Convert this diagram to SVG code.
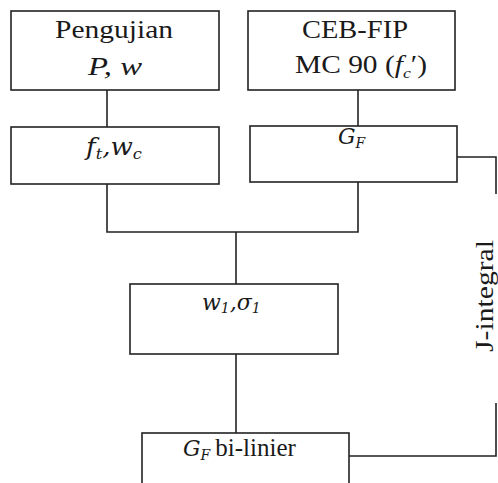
<svg xmlns="http://www.w3.org/2000/svg" width="498" height="483" viewBox="0 0 498 483">
<style>
.box{fill:#fff;stroke:#222;stroke-width:1.6}
.ln{fill:none;stroke:#222;stroke-width:1.6}
.t{font-family:"Liberation Serif","Times New Roman",serif;font-size:25px;fill:#1a1a1a}
.i{font-style:italic}
.m{font-family:"DejaVu Serif","Liberation Serif",serif;font-style:italic;fill:#1a1a1a}
</style>
<rect width="498" height="483" fill="#fff"/>
<g id="connectors">
<path class="ln" d="M107 90V127"/>
<path class="ln" d="M358 90V126"/>
<path class="ln" d="M107 184V232H358V182"/>
<path class="ln" d="M236 232V284"/>
<path class="ln" d="M236 354V433"/>
<path class="ln" d="M457 157H496V194"/>
<path class="ln" d="M349 456H496V403"/>
<text class="t" transform="translate(493 352) rotate(-90)" font-size="24" textLength="112" lengthAdjust="spacingAndGlyphs">J-integral</text>
</g>
<g id="pengujian">
<rect class="box" x="11" y="11" width="208" height="79"/>
<text class="t" x="55" y="38" textLength="118" lengthAdjust="spacingAndGlyphs">Pengujian</text>
<text class="t i" x="88" y="75" textLength="54" lengthAdjust="spacingAndGlyphs">P,  w</text>
</g>
<g id="cebfip">
<rect class="box" x="248" y="11" width="207" height="79"/>
<text class="t" x="302" y="38" textLength="106" lengthAdjust="spacingAndGlyphs">CEB-FIP</text>
<text class="t" x="295" y="73" textLength="132" lengthAdjust="spacingAndGlyphs">MC 90 (<tspan class="i">f</tspan><tspan class="i" font-size="15" dy="5">c</tspan><tspan dy="-5">′)</tspan></text>
</g>
<g id="ftwc">
<rect class="box" x="11" y="127" width="208" height="57"/>
<text class="m" x="86" y="155" font-size="24" textLength="56" lengthAdjust="spacingAndGlyphs">f<tspan font-size="15" dy="4">t</tspan><tspan dy="-4">,w</tspan><tspan font-size="15" dy="4">c</tspan></text>
</g>
<g id="gf">
<rect class="box" x="250" y="126" width="207" height="56"/>
<text class="m" x="338" y="144" font-size="22">G<tspan font-size="14" dy="4">F</tspan></text>
</g>
<g id="w1s1">
<rect class="box" x="130" y="284" width="208" height="70"/>
<text class="m" x="202" y="310" font-size="22">w<tspan font-size="14" dy="3">1</tspan><tspan dy="-3">,σ</tspan><tspan font-size="14" dy="3">1</tspan></text>
</g>
<g id="gfbilinier">
<rect class="box" x="142" y="433" width="207" height="60"/>
<text x="183" y="456"><tspan class="m" font-size="22">G</tspan><tspan class="m" font-size="14" dy="4">F</tspan><tspan class="t" dy="-4" dx="5">bi-linier</tspan></text>
</g>
</svg>
